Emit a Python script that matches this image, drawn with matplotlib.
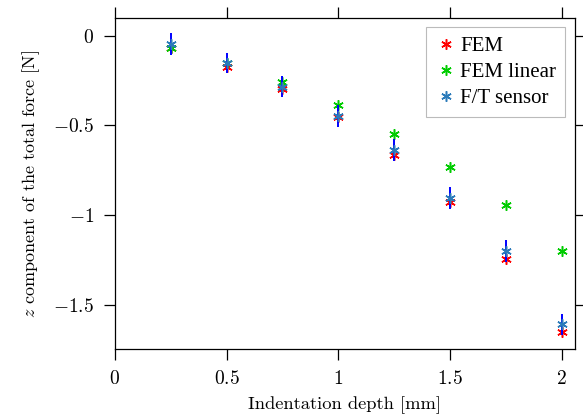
import matplotlib
matplotlib.use("Agg")
import matplotlib.pyplot as plt

plt.rcParams['font.family'] = 'cmr10'
plt.rcParams['mathtext.fontset'] = 'cm'
plt.rcParams['axes.formatter.use_mathtext'] = True
plt.rcParams['axes.unicode_minus'] = True

# data
depth = [0.25, 0.5, 0.75, 1.0, 1.25, 1.5, 1.75, 2.0]
fem = [-0.07, -0.175, -0.295, -0.45, -0.665, -0.925, -1.245, -1.655]
fem_linear = [-0.065, -0.15, -0.257, -0.385, -0.547, -0.73, -0.945, -1.2]
ft_sensor = [-0.045, -0.15, -0.283, -0.447, -0.637, -0.905, -1.2, -1.61]
ft_err = [0.06, 0.056, 0.058, 0.06, 0.06, 0.06, 0.06, 0.06]

fig = plt.figure(figsize=(5.83, 4.18), dpi=100)
ax = fig.add_axes([0.197, 0.165, 0.789, 0.792])

star = (6, 2, 0)
ms = 7.5
mew = 1.1

ax.plot(depth, fem, linestyle='none', marker=star, ms=ms, mew=mew,
        color='#ff0000', label='FEM', zorder=3)
ax.plot(depth, fem_linear, linestyle='none', marker=star, ms=ms, mew=mew,
        color='#00cc00', label='FEM linear', zorder=3)
ax.errorbar(depth, ft_sensor, yerr=ft_err, fmt='none', ecolor='#0000ff',
            elinewidth=1.4, capsize=0, zorder=4)
ax.plot(depth, ft_sensor, linestyle='none', marker=star, ms=ms, mew=mew,
        color='#2b7bba', label='F/T sensor', zorder=5)

ax.set_xlim(0, 2.058)
ax.set_ylim(-1.748, 0.1)
ax.set_xticks([0, 0.5, 1, 1.5, 2])
ax.set_xticklabels(['$0$', '$0.5$', '$1$', '$1.5$', '$2$'])
ax.set_yticks([0, -0.5, -1, -1.5])
ax.set_yticklabels(['$0$', '$-0.5$', '$-1$', '$-1.5$'])
ax.tick_params(direction='out', length=8, width=0.9, labelsize=14,
               top=True, right=True)
ax.tick_params(axis='x', pad=7)
ax.tick_params(axis='y', pad=7)
for s in ax.spines.values():
    s.set_linewidth(0.9)

ax.set_xlabel('Indentation depth [mm]', fontsize=13.3, va='center')
ax.set_ylabel('$z$ component of the total force [N]', fontsize=13, va='center')
ax.xaxis.set_label_coords(0.5, -0.169)
ax.yaxis.set_label_coords(-0.182, 0.5)

leg = ax.legend(loc='upper right', prop={'family': 'Liberation Serif', 'size': 15},
                fancybox=False, edgecolor='#bbbbbb', framealpha=1,
                handletextpad=0.2, handlelength=1.0, borderaxespad=0.45,
                labelspacing=0.3, borderpad=0.45)
leg.get_frame().set_linewidth(0.8)

fig.savefig('out.png', dpi=100)
